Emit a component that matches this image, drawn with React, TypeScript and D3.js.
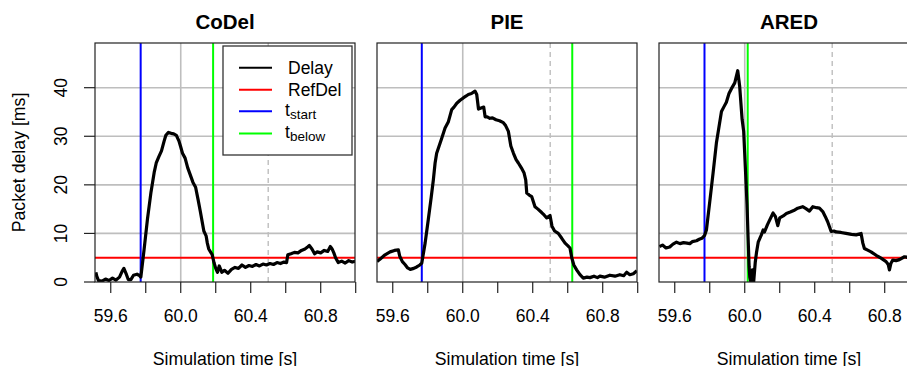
import React from "react";
import * as d3 from "d3";

// delay traces [time s, delay ms]
const codel: [number, number][] = [
  [59.515, 2.0], [59.52, 1.2], [59.53, 0.3], [59.55, 0.2], [59.57, 0.6], [59.59, 0.3],
  [59.61, 0.8], [59.63, 0.4], [59.65, 1.0], [59.665, 2.2], [59.675, 2.8], [59.69, 1.5],
  [59.7, 0.5], [59.715, 0.5], [59.73, 1.4], [59.75, 1.6], [59.765, 1.3], [59.772, 1.0],
  [59.79, 6.5], [59.81, 13.0], [59.83, 18.5], [59.848, 22.5], [59.86, 24.5], [59.875, 25.8],
  [59.89, 27.0], [59.905, 29.0], [59.915, 30.2], [59.93, 30.8], [59.945, 30.6], [59.96, 30.5],
  [59.975, 30.2], [59.99, 29.0], [60.0, 27.8], [60.01, 26.5], [60.025, 25.5], [60.04, 23.5],
  [60.055, 22.0], [60.07, 20.5], [60.085, 19.5], [60.1, 16.8], [60.112, 14.5], [60.122, 12.5],
  [60.132, 10.5], [60.145, 9.5], [60.152, 8.0], [60.16, 6.8], [60.17, 6.2], [60.18, 5.6],
  [60.19, 4.0], [60.2, 2.8], [60.21, 2.0], [60.22, 3.3], [60.235, 2.0], [60.25, 2.4],
  [60.27, 1.8], [60.29, 2.6], [60.31, 3.0], [60.33, 2.8], [60.35, 3.5], [60.37, 3.0],
  [60.39, 3.4], [60.41, 3.2], [60.43, 3.6], [60.45, 3.3], [60.47, 3.7], [60.49, 3.5],
  [60.51, 3.8], [60.53, 3.6], [60.55, 4.0], [60.57, 3.8], [60.59, 4.1], [60.605, 4.0],
  [60.612, 5.6], [60.63, 5.8], [60.65, 6.1], [60.67, 6.0], [60.69, 6.5], [60.71, 6.8],
  [60.725, 7.2], [60.735, 7.5], [60.75, 6.8], [60.765, 5.8], [60.78, 6.2], [60.8, 6.0],
  [60.82, 6.5], [60.84, 6.3], [60.855, 7.3], [60.865, 6.8], [60.875, 6.0], [60.885, 5.0],
  [60.9, 4.0], [60.92, 4.3], [60.94, 3.9], [60.96, 4.4], [60.98, 4.1], [61.0, 4.3],
];

const pie: [number, number][] = [
  [59.51, 4.2], [59.53, 4.8], [59.556, 5.6], [59.585, 6.2], [59.61, 6.5], [59.632, 6.6],
  [59.64, 5.3], [59.655, 4.2], [59.67, 3.6], [59.685, 2.9], [59.7, 2.6], [59.72, 2.8],
  [59.737, 3.1], [59.755, 3.5], [59.766, 3.9], [59.785, 8.0], [59.803, 12.8], [59.82, 17.5],
  [59.832, 21.0], [59.842, 24.5], [59.851, 26.5], [59.865, 28.0], [59.88, 29.6], [59.899, 31.7],
  [59.918, 33.0], [59.937, 35.5], [59.95, 36.0], [59.966, 36.8], [59.985, 37.4], [60.003, 37.9],
  [60.02, 38.3], [60.032, 38.6], [60.05, 38.8], [60.07, 39.3], [60.08, 38.6], [60.09, 35.6],
  [60.105, 35.8], [60.12, 36.0], [60.128, 34.0], [60.14, 34.0], [60.155, 33.7], [60.17, 33.8],
  [60.19, 33.4], [60.21, 33.2], [60.232, 32.8], [60.245, 32.2], [60.261, 31.0], [60.275, 28.0],
  [60.29, 26.5], [60.305, 25.2], [60.318, 24.5], [60.335, 23.5], [60.35, 22.5], [60.36, 21.0],
  [60.366, 18.3], [60.38, 17.9], [60.394, 17.6], [60.413, 15.5], [60.43, 15.0], [60.451, 14.3],
  [60.465, 13.8], [60.48, 13.2], [60.499, 13.7], [60.51, 11.5], [60.525, 10.5], [60.546, 10.0],
  [60.566, 9.0], [60.585, 8.0], [60.6, 7.5], [60.613, 7.0], [60.623, 5.0], [60.635, 3.5],
  [60.651, 2.5], [60.67, 1.5], [60.689, 0.8], [60.71, 1.0], [60.727, 0.9], [60.75, 1.2],
  [60.77, 0.9], [60.784, 1.2], [60.81, 1.0], [60.841, 1.4], [60.87, 1.2], [60.898, 1.5],
  [60.92, 1.3], [60.937, 2.0], [60.955, 1.5], [60.975, 1.7], [60.995, 2.3],
];

const ared: [number, number][] = [
  [59.512, 7.3], [59.53, 7.6], [59.55, 7.0], [59.571, 7.2], [59.59, 7.8], [59.61, 8.2],
  [59.63, 7.9], [59.65, 8.1], [59.67, 8.0], [59.686, 7.9], [59.7, 8.3], [59.724, 8.5],
  [59.74, 8.8], [59.755, 9.0], [59.771, 9.6], [59.781, 10.7], [59.8, 16.5], [59.819, 22.4],
  [59.838, 28.6], [59.867, 35.1], [59.88, 36.0], [59.895, 37.0], [59.91, 38.8], [59.924, 39.8],
  [59.943, 41.0], [59.96, 43.5], [59.971, 40.3], [59.985, 33.5], [59.994, 31.0], [60.006, 21.7],
  [60.013, 16.0], [60.019, 9.3], [60.025, 3.2], [60.029, 1.0], [60.035, 0.0], [60.044, 2.5],
  [60.051, 0.0], [60.06, 4.0], [60.067, 6.0], [60.077, 8.2], [60.095, 9.7], [60.105, 10.7],
  [60.113, 10.3], [60.13, 11.8], [60.143, 12.8], [60.162, 14.2], [60.175, 13.5], [60.189, 11.6],
  [60.2, 13.2], [60.22, 13.6], [60.238, 14.1], [60.26, 14.4], [60.28, 14.7], [60.303, 15.2],
  [60.331, 15.5], [60.35, 15.1], [60.37, 14.6], [60.389, 15.5], [60.41, 15.3], [60.427, 15.2],
  [60.446, 14.5], [60.46, 13.5], [60.474, 12.4], [60.494, 10.4], [60.51, 10.5], [60.522, 10.3],
  [60.55, 10.2], [60.579, 10.0], [60.61, 9.8], [60.637, 9.7], [60.665, 10.0], [60.675, 8.0],
  [60.684, 6.9], [60.7, 6.6], [60.722, 6.2], [60.751, 5.5], [60.779, 4.9], [60.808, 4.2],
  [60.82, 3.6], [60.827, 2.5], [60.835, 3.8], [60.846, 4.5], [60.865, 4.4], [60.884, 4.6],
  [60.913, 5.2], [60.94, 5.0], [60.97, 5.3], [61.0, 5.1],
];

const titles = ["CoDel", "PIE", "ARED"];
const series = [codel, pie, ared];
const tStart = [59.771, 59.766, 59.77];
const tBelow = [60.185, 60.626, 60.017];
const refDelay = 5;
const markTime = 60.5;

const xTicks = [59.6, 59.8, 60.0, 60.2, 60.4, 60.6, 60.8, 61.0];
const xLabels = ["59.6", "60.0", "60.4", "60.8"];
const yTicks = [0, 10, 20, 30, 40];
const yGrid = [10, 20, 30, 40];
const xGrid = [60.0];

const FONT = "'Liberation Sans', Arial, Helvetica, sans-serif";
const panelLeft = [95, 377, 659];
const PW = 260;
const TOP = 43;
const BOT = 282;

const x = d3.scaleLinear().domain([59.51, 60.996]).range([0, PW]);
const y = d3.scaleLinear().domain([0, 49.2]).range([BOT, TOP]);

const line = d3
  .line<[number, number]>()
  .x((d) => x(d[0]))
  .y((d) => y(d[1]));

function Panel({ i }: { i: number }) {
  const gray = "#bebebe";
  return (
    <g transform={`translate(${panelLeft[i]},0)`}>
      <defs>
        <clipPath id={`clip${i}`}>
          <rect x={0} y={TOP} width={PW} height={BOT - TOP} />
        </clipPath>
      </defs>
      <text x={PW / 2} y={29.3} textAnchor="middle" fontWeight="bold" fontSize={20.5}>
        {titles[i]}
      </text>
      <g clipPath={`url(#clip${i})`}>
        {yGrid.map((v) => (
          <line key={v} x1={0} x2={PW} y1={y(v)} y2={y(v)} stroke={gray} strokeWidth={1.6} />
        ))}
        {xGrid.map((t) => (
          <line key={t} x1={x(t)} x2={x(t)} y1={TOP} y2={BOT} stroke={gray} strokeWidth={1.6} />
        ))}
        <line x1={x(markTime)} x2={x(markTime)} y1={TOP} y2={BOT} stroke={gray} strokeWidth={1.4} strokeDasharray="5,4" />
        <line x1={0} x2={PW} y1={y(refDelay)} y2={y(refDelay)} stroke="#ff0000" strokeWidth={2} />
        <line x1={x(tStart[i])} x2={x(tStart[i])} y1={TOP} y2={BOT} stroke="#0000ff" strokeWidth={2} />
        <line x1={x(tBelow[i])} x2={x(tBelow[i])} y1={TOP} y2={BOT} stroke="#00ff00" strokeWidth={2} />
        <path d={line(series[i]) || ""} fill="none" stroke="#000" strokeWidth={3.2} strokeLinejoin="round" />
      </g>
      <rect x={0} y={TOP} width={PW} height={BOT - TOP} fill="none" stroke="#222" strokeWidth={1.2} />
      {xTicks.map((t) => (
        <line key={t} x1={x(t)} x2={x(t)} y1={BOT} y2={BOT + 11} stroke="#222" strokeWidth={1.2} />
      ))}
      {xLabels.map((l) => (
        <text key={l} x={x(+l)} y={321.5} textAnchor="middle" fontSize={17.5}>
          {l}
        </text>
      ))}
      <text x={PW / 2} y={364.5} textAnchor="middle" fontSize={17.7}>
        Simulation time [s]
      </text>
      {i === 0 && (
        <g>
          {yTicks.map((v) => (
            <g key={v}>
              <line x1={-11} x2={0} y1={y(v)} y2={y(v)} stroke="#222" strokeWidth={1.2} />
              <text transform={`translate(${67 - 95},${y(v)}) rotate(-90)`} textAnchor="middle" fontSize={17.5}>
                {v}
              </text>
            </g>
          ))}
          <text transform={`translate(${25 - 95},${(TOP + BOT) / 2}) rotate(-90)`} textAnchor="middle" fontSize={17.7}>
            Packet delay [ms]
          </text>
          <Legend />
        </g>
      )}
    </g>
  );
}

const legendItems = [
  { color: "#000000", label: "Delay", sub: "" },
  { color: "#ff0000", label: "RefDel", sub: "" },
  { color: "#0000ff", label: "t", sub: "start" },
  { color: "#00ff00", label: "t", sub: "below" },
];

function Legend() {
  // coordinates relative to panel 1
  const lx = 223 - 95;
  const rows = [67.8, 89.8, 111.3, 133.6];
  return (
    <g>
      <rect x={lx} y={46} width={129} height={109} fill="#fff" stroke="#333" strokeWidth={1.3} />
      {legendItems.map((it, k) => (
        <g key={k}>
          <line x1={239 - 95} x2={272 - 95} y1={rows[k]} y2={rows[k]} stroke={it.color} strokeWidth={2} />
          {it.sub ? (
            <text x={285 - 95} y={rows[k] + 4.8} fontSize={17.5}>
              {it.label}
              <tspan fontSize={13.5} dy={2.8}>
                {it.sub}
              </tspan>
            </text>
          ) : (
            <text x={288 - 95} y={rows[k] + 5.7} fontSize={17.5}>
              {it.label}
            </text>
          )}
        </g>
      ))}
    </g>
  );
}

export default function App() {
  return (
    <svg
      width={907}
      height={366}
      style={{ position: "absolute", left: 0, top: 0, background: "#fff" }}
      fontFamily={FONT}
    >
      <rect width={907} height={366} fill="#fff" />
      {titles.map((_, i) => (
        <Panel key={i} i={i} />
      ))}
    </svg>
  );
}
